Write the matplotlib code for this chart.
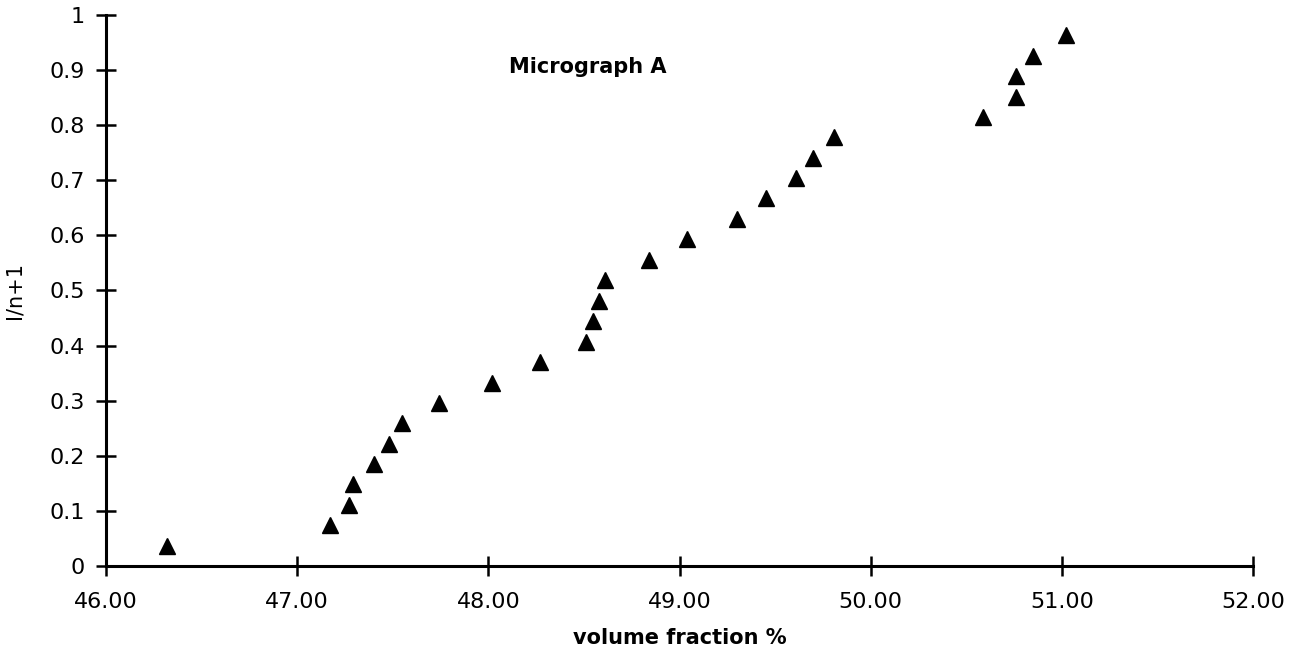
import matplotlib
matplotlib.use('Agg')
import matplotlib.pyplot as plt
from matplotlib.ticker import FormatStrFormatter

# volume fraction (%) of each field, sorted, and its rank position i/(n+1)
volume_fraction = [46.32, 47.17, 47.27, 47.29, 47.40, 47.48, 47.55, 47.74,
                   48.02, 48.27, 48.51, 48.55, 48.58, 48.61, 48.84, 49.04,
                   49.30, 49.45, 49.61, 49.70, 49.81, 50.59, 50.76, 50.76,
                   50.85, 51.02]
rank = [0.037, 0.074, 0.111, 0.148, 0.185, 0.222, 0.259, 0.296,
        0.333, 0.370, 0.407, 0.444, 0.481, 0.519, 0.556, 0.593,
        0.630, 0.667, 0.704, 0.741, 0.778, 0.815, 0.852, 0.889,
        0.926, 0.963]

x_ticks = [46, 47, 48, 49, 50, 51, 52]
y_ticks = [0, 0.1, 0.2, 0.3, 0.4, 0.5, 0.6, 0.7, 0.8, 0.9, 1]
y_ticklabels = ['0', '0.1', '0.2', '0.3', '0.4', '0.5', '0.6', '0.7', '0.8', '0.9', '1']

fig = plt.figure(figsize=(13.04, 6.6), dpi=100)
ax = fig.add_axes([0.0813, 0.1424, 0.8796, 0.8349])

ax.plot(volume_fraction, rank, linestyle='none', marker='^', markersize=12,
        color='black', clip_on=False)

ax.set_xlim(46, 52)
ax.set_ylim(0, 1)
ax.set_xticks(x_ticks)
ax.xaxis.set_major_formatter(FormatStrFormatter('%.2f'))
ax.set_yticks(y_ticks)
ax.set_yticklabels(y_ticklabels)

for side in ['top', 'right']:
    ax.spines[side].set_visible(False)
for side in ['left', 'bottom']:
    ax.spines[side].set_linewidth(2.2)
    ax.spines[side].set_color('black')

ax.tick_params(axis='both', direction='inout', length=14, width=1.8,
               labelsize=16, colors='black')
ax.tick_params(axis='x', pad=12)
ax.tick_params(axis='y', pad=8)

ax.set_xlabel('volume fraction %', fontsize=15, fontweight='bold', labelpad=11)
ax.set_ylabel('I/n+1', fontsize=15, labelpad=18)

ax.text(0.42, 0.905, 'Micrograph A', transform=ax.transAxes, ha='center',
        va='center', fontsize=15, fontweight='bold')

plt.savefig('out.png', dpi=100)
